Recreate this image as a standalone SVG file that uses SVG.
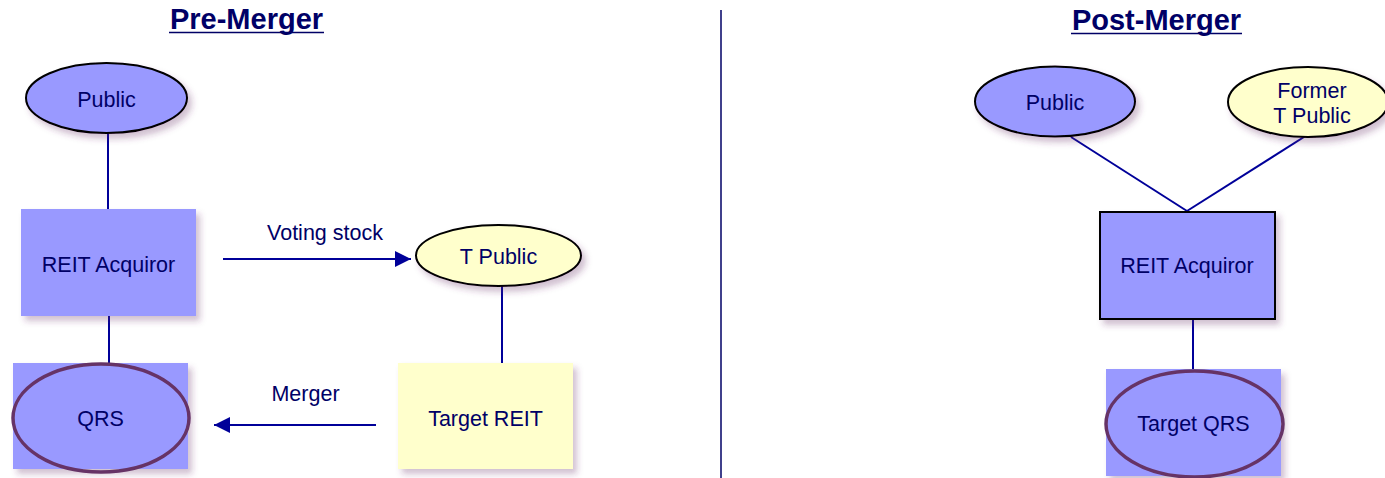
<svg xmlns="http://www.w3.org/2000/svg" width="1385" height="478" viewBox="0 0 1385 478">
  <defs>
    <filter id="shadow" x="-20%" y="-20%" width="150%" height="160%">
      <feDropShadow dx="4" dy="5" stdDeviation="3" flood-color="#663366" flood-opacity="0.3"/>
    </filter>
    <marker id="arrow" viewBox="0 0 16 16" refX="16" refY="8" markerWidth="16" markerHeight="16" markerUnits="userSpaceOnUse" orient="auto">
      <path d="M0,0 L16,8 L0,16 Z" fill="#000099"/>
    </marker>
  </defs>
  <style>
    text { font-family: "Liberation Sans", Arial, sans-serif; fill: #000066; }
    .label { font-size: 21.5px; text-anchor: middle; }
    .title { font-size: 29px; font-weight: bold; text-anchor: middle; }
    .underline { stroke: #000066; stroke-width: 1.6; }
    .blue { fill: #9999ff; }
    .yellow { fill: #ffffcc; }
    .outline { stroke: #000000; stroke-width: 2; }
    .qrs-ring { fill: none; stroke: #663366; stroke-width: 3.5; }
    .link { stroke: #000099; stroke-width: 2; fill: none; }
    .divider { stroke: #000066; stroke-width: 1.5; }
  </style>

  <rect width="1385" height="478" fill="#ffffff"/>

  <!-- headings -->
  <g id="titles">
    <text class="title" x="246.5" y="29">Pre-Merger</text>
    <line class="underline" x1="169" y1="32.5" x2="324" y2="32.5"/>
    <text class="title" x="1156.5" y="30">Post-Merger</text>
    <line class="underline" x1="1071" y1="33.5" x2="1242" y2="33.5"/>
  </g>

  <line class="divider" x1="721" y1="10" x2="721" y2="478"/>

  <!-- connectors -->
  <g id="connectors">
    <line class="link" x1="108" y1="133" x2="108" y2="209"/>
    <line class="link" x1="109" y1="316" x2="109" y2="363"/>
    <line class="link" x1="502" y1="286" x2="502" y2="363"/>
    <line class="link" x1="223" y1="259" x2="411" y2="259" marker-end="url(#arrow)"/>
    <line class="link" x1="376" y1="425" x2="214" y2="425" marker-end="url(#arrow)"/>
    <line class="link" x1="1071" y1="137" x2="1187" y2="211"/>
    <line class="link" x1="1315" y1="130" x2="1187" y2="211"/>
    <line class="link" x1="1193" y1="319" x2="1193" y2="369"/>
    <text class="label" x="325" y="240">Voting stock</text>
    <text class="label" x="305.5" y="401">Merger</text>
  </g>

  <!-- pre-merger structure -->
  <g id="pre-public">
    <ellipse class="blue outline" cx="106.5" cy="98" rx="80.5" ry="35" filter="url(#shadow)"/>
    <text class="label" x="106.5" y="106.5">Public</text>
  </g>
  <g id="pre-reit-acquiror">
    <rect class="blue" x="21" y="209" width="175" height="107" filter="url(#shadow)"/>
    <text class="label" x="108.5" y="271.5">REIT Acquiror</text>
  </g>
  <g id="pre-qrs">
    <rect class="blue" x="13" y="363" width="175" height="106" filter="url(#shadow)"/>
    <ellipse class="qrs-ring" cx="101" cy="418" rx="88" ry="54"/>
    <text class="label" x="100.5" y="425.5">QRS</text>
  </g>
  <g id="t-public">
    <ellipse class="yellow outline" cx="498.5" cy="255.5" rx="82.5" ry="30.5" filter="url(#shadow)"/>
    <text class="label" x="498.5" y="264">T Public</text>
  </g>
  <g id="target-reit">
    <rect class="yellow" x="398" y="363" width="175" height="106" filter="url(#shadow)"/>
    <text class="label" x="485.5" y="425.5">Target REIT</text>
  </g>

  <!-- post-merger structure -->
  <g id="post-public">
    <ellipse class="blue outline" cx="1055" cy="101.5" rx="80" ry="35" filter="url(#shadow)"/>
    <text class="label" x="1055" y="110">Public</text>
  </g>
  <g id="former-t-public">
    <ellipse class="yellow outline" cx="1308" cy="102" rx="80" ry="35" filter="url(#shadow)"/>
    <text class="label" x="1312" y="98">Former</text>
    <text class="label" x="1312" y="123">T Public</text>
  </g>
  <g id="post-reit-acquiror">
    <rect class="blue outline" x="1100" y="212" width="175" height="107" filter="url(#shadow)"/>
    <text class="label" x="1187" y="273">REIT Acquiror</text>
  </g>
  <g id="target-qrs">
    <rect class="blue" x="1106" y="369" width="175" height="107" filter="url(#shadow)"/>
    <ellipse class="qrs-ring" cx="1194.5" cy="424" rx="88.5" ry="53"/>
    <text class="label" x="1193.5" y="430.5">Target QRS</text>
  </g>
</svg>
